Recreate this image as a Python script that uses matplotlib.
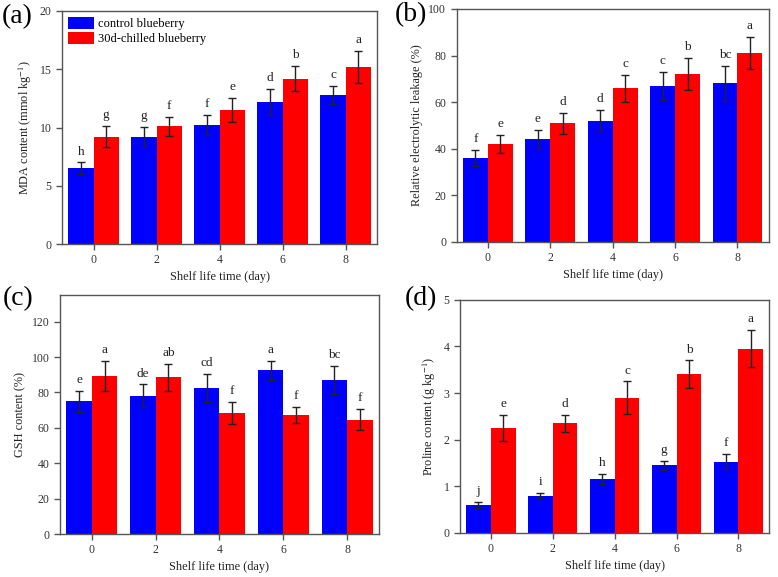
import matplotlib
matplotlib.use("Agg")
import matplotlib.pyplot as plt
import numpy as np

days = [0, 2, 4, 6, 8]

# (a) MDA content
mda_ctrl = [6.5, 9.2, 10.2, 12.2, 12.8]
mda_ctrl_err = [0.5, 0.85, 0.85, 1.1, 0.75]
mda_chill = [9.2, 10.1, 11.5, 14.2, 15.2]
mda_chill_err = [0.9, 0.8, 1.05, 1.1, 1.4]
mda_ctrl_lbl = ["h", "g", "f", "d", "c"]
mda_chill_lbl = ["g", "f", "e", "b", "a"]

# (b) relative electrolytic leakage
rel_ctrl = [36, 44, 52, 67, 68]
rel_ctrl_err = [3.5, 4, 4.5, 6, 7.7]
rel_chill = [42, 51, 66, 72, 81]
rel_chill_err = [4, 4.5, 5.8, 7, 7]
rel_ctrl_lbl = ["f", "e", "d", "c", "bc"]
rel_chill_lbl = ["e", "d", "c", "b", "a"]

# (c) GSH content
gsh_ctrl = [75, 78, 82.5, 92.5, 87]
gsh_ctrl_err = [6, 6.5, 8, 5.5, 8]
gsh_chill = [89.5, 88.5, 68.5, 67.5, 64.5]
gsh_chill_err = [8.5, 7.5, 6.2, 4.5, 6]
gsh_ctrl_lbl = ["e", "de", "cd", "a", "bc"]
gsh_chill_lbl = ["a", "ab", "f", "f", "f"]

# (d) proline content
pro_ctrl = [0.6, 0.8, 1.15, 1.45, 1.53]
pro_ctrl_err = [0.06, 0.05, 0.11, 0.09, 0.16]
pro_chill = [2.25, 2.35, 2.9, 3.4, 3.95]
pro_chill_err = [0.28, 0.18, 0.35, 0.3, 0.4]
pro_ctrl_lbl = ["j", "i", "h", "g", "f"]
pro_chill_lbl = ["e", "d", "c", "b", "a"]

plt.rcParams['font.family'] = ['Liberation Serif', 'DejaVu Serif']
plt.rcParams['mathtext.fontset'] = 'stix'

fig = plt.figure(figsize=(7.78, 5.77), dpi=100)

spine_col = '#555555'
text_col = '#222222'


def draw_panel(rect, ctrl, ctrl_err, chill, chill_err, ctrl_lbl, chill_lbl,
               ylim, yticks, ylabel, tag, tag_pos):
    ax = fig.add_axes(rect)
    x = np.array(days, dtype=float)
    w = 0.8
    ekw = dict(ecolor='#222222', elinewidth=1.0, capsize=3, capthick=1.0)
    ax.bar(x - w / 2, ctrl, w, yerr=ctrl_err, color='#0000ff',
           label='control blueberry', error_kw=ekw)
    ax.bar(x + w / 2, chill, w, yerr=chill_err, color='#ff0000',
           label='30d-chilled blueberry', error_kw=ekw)
    for xi, v, e, s in zip(x, ctrl, ctrl_err, ctrl_lbl):
        ax.annotate(s, (xi - w / 2, v + e), xytext=(0, 3.5), textcoords='offset points',
                    ha='center', va='bottom', fontsize=9.5, color=text_col)
    for xi, v, e, s in zip(x, chill, chill_err, chill_lbl):
        ax.annotate(s, (xi + w / 2, v + e), xytext=(0, 3.5), textcoords='offset points',
                    ha='center', va='bottom', fontsize=9.5, color=text_col)
    ax.set_xlim(-1, 9)
    ax.set_ylim(*ylim)
    ax.set_xticks(days)
    ax.set_yticks(yticks)
    ax.tick_params(direction='out', length=4, width=1, colors=spine_col,
                   labelcolor='#333333', labelsize=8.5)
    for sp in ax.spines.values():
        sp.set_color(spine_col)
        sp.set_linewidth(1.0)
    ax.set_xlabel('Shelf life time (day)', fontsize=8.8, color=text_col, labelpad=3)
    ax.set_ylabel(ylabel, fontsize=8.8, color=text_col)
    fig.text(tag_pos[0], tag_pos[1], tag, fontsize=20, ha='left', va='center')
    return ax


ax_a = draw_panel([0.0797, 0.577, 0.405, 0.404], mda_ctrl, mda_ctrl_err,
                  mda_chill, mda_chill_err, mda_ctrl_lbl, mda_chill_lbl,
                  (0, 20), [0, 5, 10, 15, 20], r'MDA content (mmol kg$^{-1}$)',
                  '(a)', (0.002, 0.972))
ax_a.legend(loc='upper left', frameon=False, fontsize=9, handlelength=2.1,
            handleheight=1.1, borderaxespad=0.15, labelspacing=0.15,
            handletextpad=0.35, borderpad=0.3)

draw_panel([0.587, 0.5806, 0.401, 0.404], rel_ctrl, rel_ctrl_err,
           rel_chill, rel_chill_err, rel_ctrl_lbl, rel_chill_lbl,
           (0, 100), [0, 20, 40, 60, 80, 100], 'Relative electrolytic leakage (%)',
           '(b)', (0.508, 0.975))

draw_panel([0.0771, 0.0745, 0.41, 0.414], gsh_ctrl, gsh_ctrl_err,
           gsh_chill, gsh_chill_err, gsh_ctrl_lbl, gsh_chill_lbl,
           (0, 135), [0, 20, 40, 60, 80, 100, 120], 'GSH content (%)',
           '(c)', (0.004, 0.482))

draw_panel([0.591, 0.0763, 0.398, 0.404], pro_ctrl, pro_ctrl_err,
           pro_chill, pro_chill_err, pro_ctrl_lbl, pro_chill_lbl,
           (0, 5), [0, 1, 2, 3, 4, 5], r'Proline content (g kg$^{-1}$)',
           '(d)', (0.52, 0.482))

fig.savefig('out.png', dpi=100)
